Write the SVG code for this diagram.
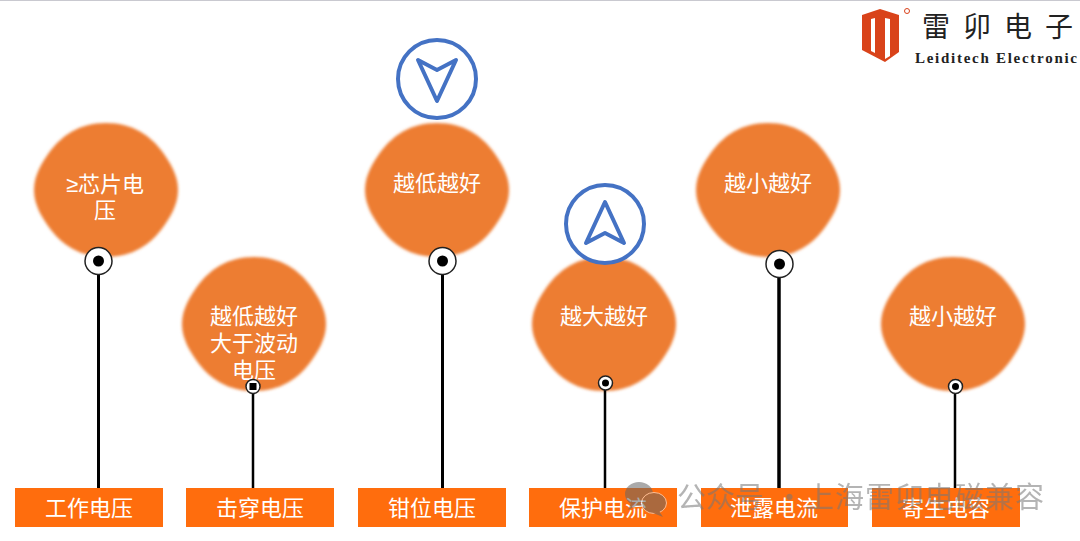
<svg xmlns="http://www.w3.org/2000/svg" width="1080" height="541" viewBox="0 0 1080 541">
<style>
.t{font-family:"Liberation Sans","Noto Sans CJK SC",sans-serif;font-size:22px;fill:#fff;text-anchor:middle}
.box{fill:#ff6d0d}
.blob{fill:#ed7d31;filter:url(#soft)}
.wire{stroke:#000;fill:none}
.ring{fill:#fff;stroke:#222;stroke-width:1.5}
.nav{fill:#fff;stroke:#4472c4;stroke-width:4}
.arrow{fill:none;stroke:#4472c4;stroke-width:4;stroke-linejoin:round}
</style>
<defs>
<filter id="soft" x="-10%" y="-10%" width="120%" height="120%"><feGaussianBlur stdDeviation="1.800"/></filter>
<path id="b" d="M0-67C27-67 44-54 55-40C64-28 72-15 72 0C72 15 64 28 55 40C44 54 27 67 0 67C-27 67-44 54-55 40C-64 28-72 15-72 0C-72-15-64-28-55-40C-44-54-27-67 0-67Z"/>
</defs>
<rect width="1080" height="541" fill="#fff"/>
<rect width="1080" height="1" fill="#c9c9d0"/>
<g id="node-1"><use href="#b" x="106" y="190" class="blob"/><text class="t" x="105" y="192">≥芯片电</text><text class="t" x="105" y="218">压</text></g>
<g id="node-2"><use href="#b" x="254" y="324" class="blob"/><text class="t" x="254" y="324">越低越好</text><text class="t" x="254" y="351">大于波动</text><text class="t" x="254" y="378">电压</text></g>
<g id="node-3"><use href="#b" x="437" y="190" class="blob"/><text class="t" x="437" y="191">越低越好</text></g>
<g id="node-4"><use href="#b" x="604" y="324" class="blob"/><text class="t" x="604" y="324">越大越好</text></g>
<g id="node-5"><use href="#b" x="768" y="190" class="blob"/><text class="t" x="768" y="191">越小越好</text></g>
<g id="node-6"><use href="#b" x="953" y="324" class="blob"/><text class="t" x="953" y="324">越小越好</text></g>
<g id="connectors">
<path class="wire" stroke-width="3" d="M98.500 274V488M442.500 274V488"/>
<path class="wire" stroke-width="2.500" d="M253 394V488M605 390V488M955 394V488"/>
<path class="wire" stroke-width="3.500" d="M779 277V490"/>
</g>
<g id="dots">
<circle class="ring" cx="98.500" cy="261" r="13.500"/><circle cx="98.500" cy="261" r="5.500"/>
<circle class="ring" cx="253" cy="386.500" r="7"/><rect x="249.500" y="383" width="7" height="7"/>
<circle class="ring" cx="442.500" cy="261" r="13.500"/><circle cx="442.500" cy="261" r="5.500"/>
<circle class="ring" cx="605.500" cy="383" r="7"/><circle cx="605.500" cy="383" r="3.500"/>
<circle class="ring" cx="779.500" cy="264" r="13.500"/><circle cx="779.500" cy="264" r="5.500"/>
<circle class="ring" cx="955.500" cy="386.500" r="7"/><circle cx="955.500" cy="386.500" r="3.500"/>
</g>
<g id="label-1"><rect class="box" x="15" y="488" width="148" height="39"/><text class="t" x="89" y="516">工作电压</text></g>
<g id="label-2"><rect class="box" x="186" y="488" width="148" height="39"/><text class="t" x="260" y="516">击穿电压</text></g>
<g id="label-3"><rect class="box" x="358" y="488" width="148" height="39"/><text class="t" x="432" y="516">钳位电压</text></g>
<g id="label-4"><rect class="box" x="529" y="488" width="148" height="39"/><text class="t" x="603" y="516">保护电流</text></g>
<g id="label-5"><rect class="box" x="701" y="488" width="147" height="39"/><text class="t" x="774" y="516">泄露电流</text></g>
<g id="label-6"><rect class="box" x="872" y="488" width="148" height="39"/><text class="t" x="946" y="516">寄生电容</text></g>
<g id="nav-down"><circle class="nav" cx="437" cy="79" r="39"/><path class="arrow" d="M418 60L437 70L456 60L437 101Z"/></g>
<g id="nav-up"><circle class="nav" cx="605" cy="224" r="39"/><path class="arrow" d="M605 202L624 243L605 233L586 243Z"/></g>
<g id="logo">
<path d="M862 15L880 9L899 15V52L885 62L862 50Z" fill="#d9431a"/>
<path d="M871 19L875 18V53L871 51ZM885 18L890 19V56L885 59Z" fill="#fff"/>
<circle cx="907" cy="11" r="2.500" fill="none" stroke="#d9411a"/>
<text x="922 963 1004 1045" y="37" font-family="'Noto Sans CJK SC',sans-serif" font-size="28" fill="#222">雷卯电子</text>
<text x="915" y="63" font-family="'Liberation Serif',serif" font-size="15" font-weight="700" textLength="162" lengthAdjust="spacing" fill="#222">Leiditech Electronic</text>
</g>
<g id="watermark" opacity=".55">
<ellipse cx="639" cy="494" rx="14" ry="12" fill="#666"/>
<path d="M631 503L628 510L638 505Z" fill="#666"/>
<ellipse cx="654" cy="503" rx="12.500" ry="10.500" fill="#666" stroke="#fff" stroke-width="1"/>
<path d="M659 511L663 517L653 513Z" fill="#666"/>
<text font-family="'Noto Sans CJK SC',sans-serif" font-size="29" fill="#777" y="508"><tspan x="677">公众号</tspan><tspan x="775">·</tspan><tspan x="805" letter-spacing="1">上海雷卯电磁兼容</tspan></text>
</g>
</svg>
